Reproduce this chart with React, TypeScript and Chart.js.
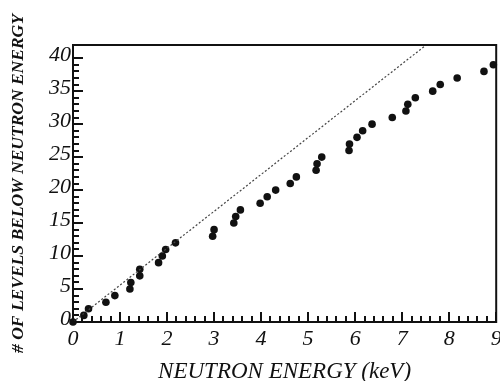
import React, { useEffect, useRef } from "react";
import { Chart, registerables } from "chart.js";

Chart.register(...registerables);

// Cumulative level count versus neutron energy
const energyKeV = [
  0, 0.23, 0.33, 0.7, 0.89, 1.21, 1.23, 1.42, 1.42, 1.82,
  1.9, 1.97, 2.18, 2.97, 3.0, 3.42, 3.46, 3.56, 3.98, 4.13,
  4.31, 4.62, 4.75, 5.17, 5.19, 5.29, 5.87, 5.88, 6.04, 6.16,
  6.36, 6.79, 7.08, 7.12, 7.28, 7.65, 7.81, 8.17, 8.74, 8.94,
];
const levelCount = [
  0, 1, 2, 3, 4, 5, 6, 7, 8, 9,
  10, 11, 12, 13, 14, 15, 16, 17, 18, 19,
  20, 21, 22, 23, 24, 25, 26, 27, 28, 29,
  30, 31, 32, 33, 34, 35, 36, 37, 38, 39,
];

// Straight-line reference through the origin
const refLineX = [0, 7.51];
const refLineY = [0, 42];

const xTickValues = [0, 1, 2, 3, 4, 5, 6, 7, 8, 9];
const yTickValues = [0, 5, 10, 15, 20, 25, 30, 35, 40];

const xTitle = "NEUTRON ENERGY (keV)";
const yTitle = "# OF LEVELS BELOW NEUTRON ENERGY";

const X_MIN = 0, X_MAX = 9, X_MINOR = 0.2;
const Y_MIN = 0, Y_MAX = 42, Y_MINOR = 1, Y_LAST = 40;

const INK = "#111";
const SERIF = "'Liberation Serif', 'Times New Roman', Times, serif";
const LABEL_FONT = "italic 22px " + SERIF;

// Frame, inward major/minor ticks and the numeric tick labels
const framePlugin = {
  id: "frameTicks",
  afterDraw(chart: any) {
    const { ctx, chartArea: a, scales } = chart;
    const xs = scales.x, ys = scales.y;
    ctx.save();
    ctx.setLineDash([]);
    ctx.fillStyle = INK;

    const nx = Math.round((X_MAX - X_MIN) / X_MINOR);
    for (let i = 0; i <= nx; i++) {
      const v = X_MIN + i * X_MINOR;
      const len = i % 5 === 0 ? 10 : 6;
      const px = Math.round(xs.getPixelForValue(v));
      ctx.fillRect(px - 1, a.bottom - len, 2, len);
    }
    const ny = Math.round((Y_LAST - Y_MIN) / Y_MINOR);
    for (let i = 0; i <= ny; i++) {
      const v = Y_MIN + i * Y_MINOR;
      const len = i % 5 === 0 ? 10 : 6;
      const py = Math.round(ys.getPixelForValue(v));
      ctx.fillRect(a.left, py - 1, len, 2);
    }

    ctx.font = LABEL_FONT;
    ctx.textAlign = "center";
    ctx.textBaseline = "alphabetic";
    xTickValues.forEach((v) => {
      ctx.fillText(String(v), xs.getPixelForValue(v), a.bottom + 23);
    });
    ctx.textAlign = "right";
    ctx.textBaseline = "middle";
    yTickValues.forEach((v) => {
      ctx.fillText(String(v), a.left - 2, ys.getPixelForValue(v) - 3);
    });

    ctx.strokeStyle = INK;
    ctx.lineWidth = 2;
    ctx.strokeRect(a.left, a.top, a.right - a.left, a.bottom - a.top);
    ctx.restore();
  },
};

export default function App() {
  const ref = useRef<HTMLCanvasElement | null>(null);

  useEffect(() => {
    document.body.style.margin = "0";
    const canvas = ref.current;
    if (!canvas) return;
    const points = energyKeV.map((x, i) => ({ x, y: levelCount[i] }));
    const line = refLineX.map((x, i) => ({ x, y: refLineY[i] }));

    const chart = new Chart(canvas, {
      type: "scatter",
      data: {
        datasets: [
          {
            type: "line",
            data: line,
            borderColor: "#444",
            borderWidth: 1.2,
            borderDash: [2, 2],
            pointRadius: 0,
            fill: false,
          },
          {
            data: points,
            backgroundColor: INK,
            borderColor: INK,
            pointRadius: 3.8,
            pointHoverRadius: 3.8,
            borderWidth: 0,
            clip: false,
          },
        ],
      },
      options: {
        animation: false,
        responsive: false,
        maintainAspectRatio: false,
        layout: { padding: { top: 45, right: 3, left: 0, bottom: 0 } },
        plugins: { legend: { display: false }, tooltip: { enabled: false } },
        scales: {
          x: {
            type: "linear",
            min: X_MIN,
            max: X_MAX,
            grid: { display: false, drawTicks: false },
            border: { display: false },
            ticks: { display: false },
            title: {
              display: true,
              text: xTitle,
              color: INK,
              font: { family: SERIF, style: "italic", size: 23 },
              padding: { top: 0, bottom: -5 },
            },
            afterFit(s: any) {
              s.height = 59;
              s.paddingLeft = 0;
              s.paddingRight = 0;
            },
          },
          y: {
            type: "linear",
            min: Y_MIN,
            max: Y_MAX,
            grid: { display: false, drawTicks: false },
            border: { display: false },
            ticks: { display: false },
            title: {
              display: true,
              text: yTitle,
              color: INK,
              font: { family: SERIF, style: "italic", weight: "bold", size: 17.5 },
              padding: { top: 7.5, bottom: 0 },
            },
            afterFit(s: any) {
              s.width = 73;
              s.paddingTop = 0;
              s.paddingBottom = 0;
            },
          },
        },
      },
      plugins: [framePlugin],
    });
    return () => chart.destroy();
  }, []);

  return (
    <div style={{ position: "fixed", left: 0, top: 0, width: 500, height: 381, background: "#fff" }}>
      <canvas ref={ref} width={500} height={381} style={{ display: "block" }} />
    </div>
  );
}
